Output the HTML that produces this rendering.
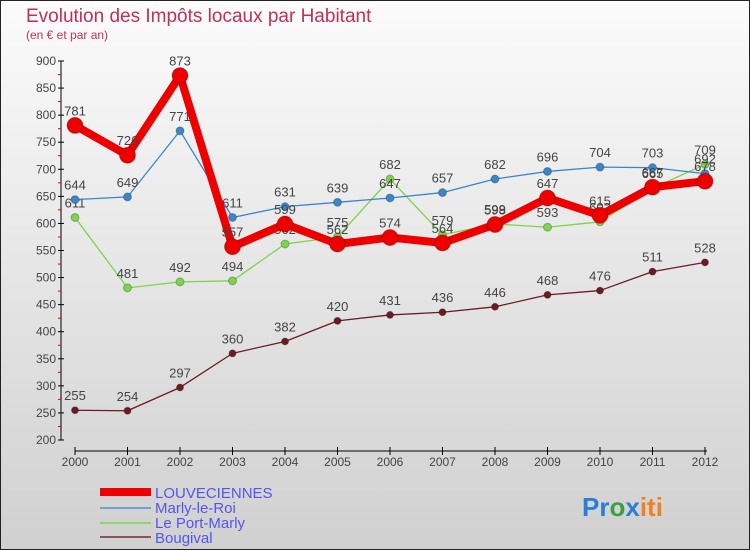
<!DOCTYPE html>
<html><head><meta charset="utf-8"><style>
body{margin:0;width:750px;height:550px;overflow:hidden;font-family:"Liberation Sans",sans-serif}
svg{display:block}
</style></head><body>
<svg id="c" width="750" height="550">
<defs><linearGradient id="bg" x1="0" y1="0" x2="0" y2="1"><stop offset="0" stop-color="#fbfbfb"/><stop offset="1" stop-color="#d0d0d0"/></linearGradient></defs>
<rect x="0.5" y="0.5" width="749" height="549" fill="url(#bg)" stroke="#222"/>
<text x="26" y="22" font-size="19" fill="#c0305a">Evolution des Impôts locaux par Habitant</text>
<text x="26" y="39" font-size="12" fill="#c0305a">(en € et par an)</text>
<g id="axes"></g><g id="series"></g>
<g font-size="15" fill="#5555ee">
<rect x="100" y="488" width="51" height="8" fill="#e00"/>
<text x="155" y="498">LOUVECIENNES</text>
<line x1="100" y1="508" x2="151" y2="508" stroke="#6fa4d0" stroke-width="2"/>
<text x="155" y="513">Marly-le-Roi</text>
<line x1="100" y1="523" x2="151" y2="523" stroke="#8fd46a" stroke-width="2"/>
<text x="155" y="528">Le Port-Marly</text>
<line x1="100" y1="537" x2="151" y2="537" stroke="#8b5555" stroke-width="2"/>
<text x="155" y="543">Bougival</text>
</g>
<text x="582" y="516" font-size="26" font-weight="bold"><tspan fill="#2a7fd4">Pr</tspan><tspan fill="#3aa040">o</tspan><tspan fill="#2a7fd4">x</tspan><tspan fill="#f08020">iti</tspan></text>
</svg>
<script>
const years=[2000,2001,2002,2003,2004,2005,2006,2007,2008,2009,2010,2011,2012];
const louveciennes=[781,726,873,557,599,562,574,564,598,647,615,667,678];
const marly=[644,649,771,611,631,639,647,657,682,696,704,703,692];
const portMarly=[611,481,492,494,562,575,682,579,599,593,603,665,709];
const bougival=[255,254,297,360,382,420,431,436,446,468,476,511,528];
const yTicks=[200,250,300,350,400,450,500,550,600,650,700,750,800,850,900];
const NS='http://www.w3.org/2000/svg';
const xS=i=>75+i*52.5;
const yS=v=>440-(v-200)*379/700;
function mk(p,tag,at){const e=document.createElementNS(NS,tag);for(const k in at)e.setAttribute(k,at[k]);p.appendChild(e);return e;}
const ax=document.getElementById('axes');
let a=mk(ax,'line',{x1:61,y1:61,x2:61,y2:440,stroke:'#000'});


yTicks.forEach(v=>{const y=yS(v);
mk(ax,'line',{x1:58,y1:y,x2:64,y2:y,stroke:'#000'});
if(v<900)mk(ax,'line',{x1:58,y1:yS(v+25),x2:61,y2:yS(v+25),stroke:'#e00'});
const t=mk(ax,'text',{x:56,y:y+4,'font-size':12,'text-anchor':'end',fill:'#444'});


t.textContent=v;});
a=mk(ax,'line',{x1:75,y1:451,x2:707,y2:451,stroke:'#000'});


years.forEach((yr,i)=>{const x=xS(i);
mk(ax,'line',{x1:x,y1:447,x2:x,y2:455,stroke:'#000'});
const t=mk(ax,'text',{x:x,y:466,'font-size':12,'text-anchor':'middle',fill:'#444'});


t.textContent=yr;});
const sg=document.getElementById('series');
function series(name,data,color,w,r){
const g=mk(sg,'g',{});


const l=mk(g,'polyline',{points:data.map((v,i)=>xS(i)+','+yS(v)).join(' '),fill:'none',stroke:color,'stroke-width':w,'stroke-linejoin':'round'});


data.forEach((v,i)=>{
const c=mk(g,'circle',{cx:xS(i),cy:yS(v),r:r,fill:color,stroke:'rgba(0,0,0,0.25)'});


const t=mk(g,'text',{x:xS(i),y:yS(v)-10,'font-size':13,'text-anchor':'middle',fill:'#444'});


t.textContent=v;});}
series('bougival',bougival,'#6b1c22',1.3,3.5);
series('port-marly',portMarly,'#7dd34a',1.3,4);
series('marly',marly,'#3a86c8',1.3,4);
series('louveciennes',louveciennes,'#ee0000',8,8);
</script>
</body></html>
